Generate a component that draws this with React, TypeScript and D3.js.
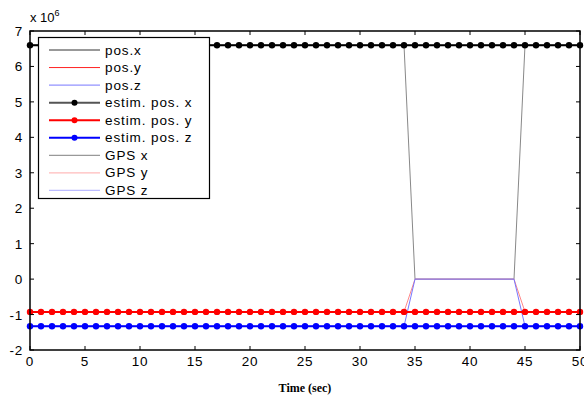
import React from "react";
import * as d3 from "d3";

// time stamps (sec)
const time = [0,1,2,3,4,5,6,7,8,9,10,11,12,13,14,15,16,17,18,19,20,21,22,23,24,25,26,27,28,29,30,31,32,33,34,35,36,37,38,39,40,41,42,43,44,45,46,47,48,49,50];
// values in units of 1e6
const posX = [6.6,6.6,6.6,6.6,6.6,6.6,6.6,6.6,6.6,6.6,6.6,6.6,6.6,6.6,6.6,6.6,6.6,6.6,6.6,6.6,6.6,6.6,6.6,6.6,6.6,6.6,6.6,6.6,6.6,6.6,6.6,6.6,6.6,6.6,6.6,6.6,6.6,6.6,6.6,6.6,6.6,6.6,6.6,6.6,6.6,6.6,6.6,6.6,6.6,6.6,6.6];
const posY = [-0.925,-0.925,-0.925,-0.925,-0.925,-0.925,-0.925,-0.925,-0.925,-0.925,-0.925,-0.925,-0.925,-0.925,-0.925,-0.925,-0.925,-0.925,-0.925,-0.925,-0.925,-0.925,-0.925,-0.925,-0.925,-0.925,-0.925,-0.925,-0.925,-0.925,-0.925,-0.925,-0.925,-0.925,-0.925,-0.925,-0.925,-0.925,-0.925,-0.925,-0.925,-0.925,-0.925,-0.925,-0.925,-0.925,-0.925,-0.925,-0.925,-0.925,-0.925];
const posZ = [-1.33,-1.33,-1.33,-1.33,-1.33,-1.33,-1.33,-1.33,-1.33,-1.33,-1.33,-1.33,-1.33,-1.33,-1.33,-1.33,-1.33,-1.33,-1.33,-1.33,-1.33,-1.33,-1.33,-1.33,-1.33,-1.33,-1.33,-1.33,-1.33,-1.33,-1.33,-1.33,-1.33,-1.33,-1.33,-1.33,-1.33,-1.33,-1.33,-1.33,-1.33,-1.33,-1.33,-1.33,-1.33,-1.33,-1.33,-1.33,-1.33,-1.33,-1.33];
const estimX = posX;
const estimY = posY;
const estimZ = posZ;
// GPS measurements (dropout to 0 between 35 and 44 s)
const gpsX = [6.6,6.6,6.6,6.6,6.6,6.6,6.6,6.6,6.6,6.6,6.6,6.6,6.6,6.6,6.6,6.6,6.6,6.6,6.6,6.6,6.6,6.6,6.6,6.6,6.6,6.6,6.6,6.6,6.6,6.6,6.6,6.6,6.6,6.6,6.6,0,0,0,0,0,0,0,0,0,0,6.6,6.6,6.6,6.6,6.6,6.6];
const gpsY = [-0.925,-0.925,-0.925,-0.925,-0.925,-0.925,-0.925,-0.925,-0.925,-0.925,-0.925,-0.925,-0.925,-0.925,-0.925,-0.925,-0.925,-0.925,-0.925,-0.925,-0.925,-0.925,-0.925,-0.925,-0.925,-0.925,-0.925,-0.925,-0.925,-0.925,-0.925,-0.925,-0.925,-0.925,-0.925,0,0,0,0,0,0,0,0,0,0,-0.925,-0.925,-0.925,-0.925,-0.925,-0.925];
const gpsZ = [-1.33,-1.33,-1.33,-1.33,-1.33,-1.33,-1.33,-1.33,-1.33,-1.33,-1.33,-1.33,-1.33,-1.33,-1.33,-1.33,-1.33,-1.33,-1.33,-1.33,-1.33,-1.33,-1.33,-1.33,-1.33,-1.33,-1.33,-1.33,-1.33,-1.33,-1.33,-1.33,-1.33,-1.33,-1.33,0,0,0,0,0,0,0,0,0,0,-1.33,-1.33,-1.33,-1.33,-1.33,-1.33];

const xTicks = [0,5,10,15,20,25,30,35,40,45,50];
const yTicks = [-2,-1,0,1,2,3,4,5,6,7];
const legendLabels = ["pos.x","pos.y","pos.z","estim. pos. x","estim. pos. y","estim. pos. z","GPS x","GPS y","GPS z"];
const xLabel = "Time (sec)";

const W = 584, H = 398;
const L = 30, R = 580, T = 31, B = 350;

export default function App() {
  const x = d3.scaleLinear().domain([0, 50]).range([L, R]);
  const y = d3.scaleLinear().domain([-2, 7]).range([B, T]);
  const line = (vals: number[]) =>
    d3.line<number>().x((_, i) => x(time[i])).y((v) => y(v))(vals) as string;

  const font = "'Liberation Sans', Arial, sans-serif";
  const legendStyles = [
    { c: "#333", w: 1, m: false },
    { c: "#f22", w: 1, m: false },
    { c: "#77f", w: 1, m: false },
    { c: "#555", w: 2, m: true, mc: "#000" },
    { c: "#f00", w: 2, m: true, mc: "#f00" },
    { c: "#00f", w: 2, m: true, mc: "#00f" },
    { c: "#999", w: 1.2, m: false },
    { c: "#fbb", w: 1.4, m: false },
    { c: "#bbf", w: 1.4, m: false },
  ];

  return (
    <svg width={W} height={H} style={{ position: "absolute", left: 0, top: 0, background: "#fff" }}>
      <rect x={0} y={0} width={W} height={H} fill="#fff" />
      {/* true positions */}
      <path d={line(posX)} fill="none" stroke="#555" strokeWidth={0.8} />
      <path d={line(posY)} fill="none" stroke="#f44" strokeWidth={0.8} />
      <path d={line(posZ)} fill="none" stroke="#88f" strokeWidth={0.8} />
      {/* GPS */}
      <path d={line(gpsX)} fill="none" stroke="#888" strokeWidth={1} />
      <path d={line(gpsY)} fill="none" stroke="#f88" strokeWidth={1} />
      <path d={line(gpsZ)} fill="none" stroke="#77f" strokeWidth={1} />
      {/* estimates */}
      {[
        { v: estimX, c: "#000" },
        { v: estimY, c: "#f00" },
        { v: estimZ, c: "#00f" },
      ].map((s, k) => (
        <g key={k}>
          <path d={line(s.v)} fill="none" stroke={s.c} strokeWidth={2} />
          {s.v.map((v, i) => (
            <circle key={i} cx={x(time[i])} cy={y(v)} r={3.2} fill={s.c} />
          ))}
        </g>
      ))}
      {/* axes box */}
      <rect x={L} y={T} width={R - L} height={B - T} fill="none" stroke="#000" strokeWidth={1.5} />
      {xTicks.map((t) => (
        <g key={"x" + t}>
          <line x1={x(t)} x2={x(t)} y1={B} y2={B - 4} stroke="#000" />
          <line x1={x(t)} x2={x(t)} y1={T} y2={T + 4} stroke="#000" />
          <text x={x(t)} y={B + 16} textAnchor="middle" fontFamily={font} fontSize={13.5} letterSpacing={0.8}>
            {t}
          </text>
        </g>
      ))}
      {yTicks.map((t) => (
        <g key={"y" + t}>
          <line x1={L} x2={L + 4} y1={y(t)} y2={y(t)} stroke="#000" />
          <line x1={R} x2={R - 4} y1={y(t)} y2={y(t)} stroke="#000" />
          <text x={L - 7} y={y(t) + 5} textAnchor="end" fontFamily={font} fontSize={13.5} letterSpacing={0.8}>
            {t}
          </text>
        </g>
      ))}
      <text x={L} y={T - 9} fontFamily={font} fontSize={13}>
        x 10
        <tspan dy={-6} fontSize={9}>6</tspan>
      </text>
      <text x={(L + R) / 2} y={392} textAnchor="middle" fontFamily="'Liberation Serif', 'Times New Roman', serif" fontWeight="bold" fontSize={12}>
        {xLabel}
      </text>
      {/* legend */}
      <rect x={38.5} y={37.5} width={171} height={161} fill="#fff" stroke="#000" strokeWidth={1.2} />
      {legendLabels.map((lab, i) => {
        const ly = 50 + i * 17.55;
        const st = legendStyles[i];
        return (
          <g key={lab}>
            <line x1={49} x2={100} y1={ly} y2={ly} stroke={st.c} strokeWidth={st.w} />
            {st.m && <circle cx={74.5} cy={ly} r={3} fill={st.mc} />}
            <text x={105} y={ly + 4.5} fontFamily={font} fontSize={13.5} letterSpacing={0.9}>
              {lab}
            </text>
          </g>
        );
      })}
    </svg>
  );
}
